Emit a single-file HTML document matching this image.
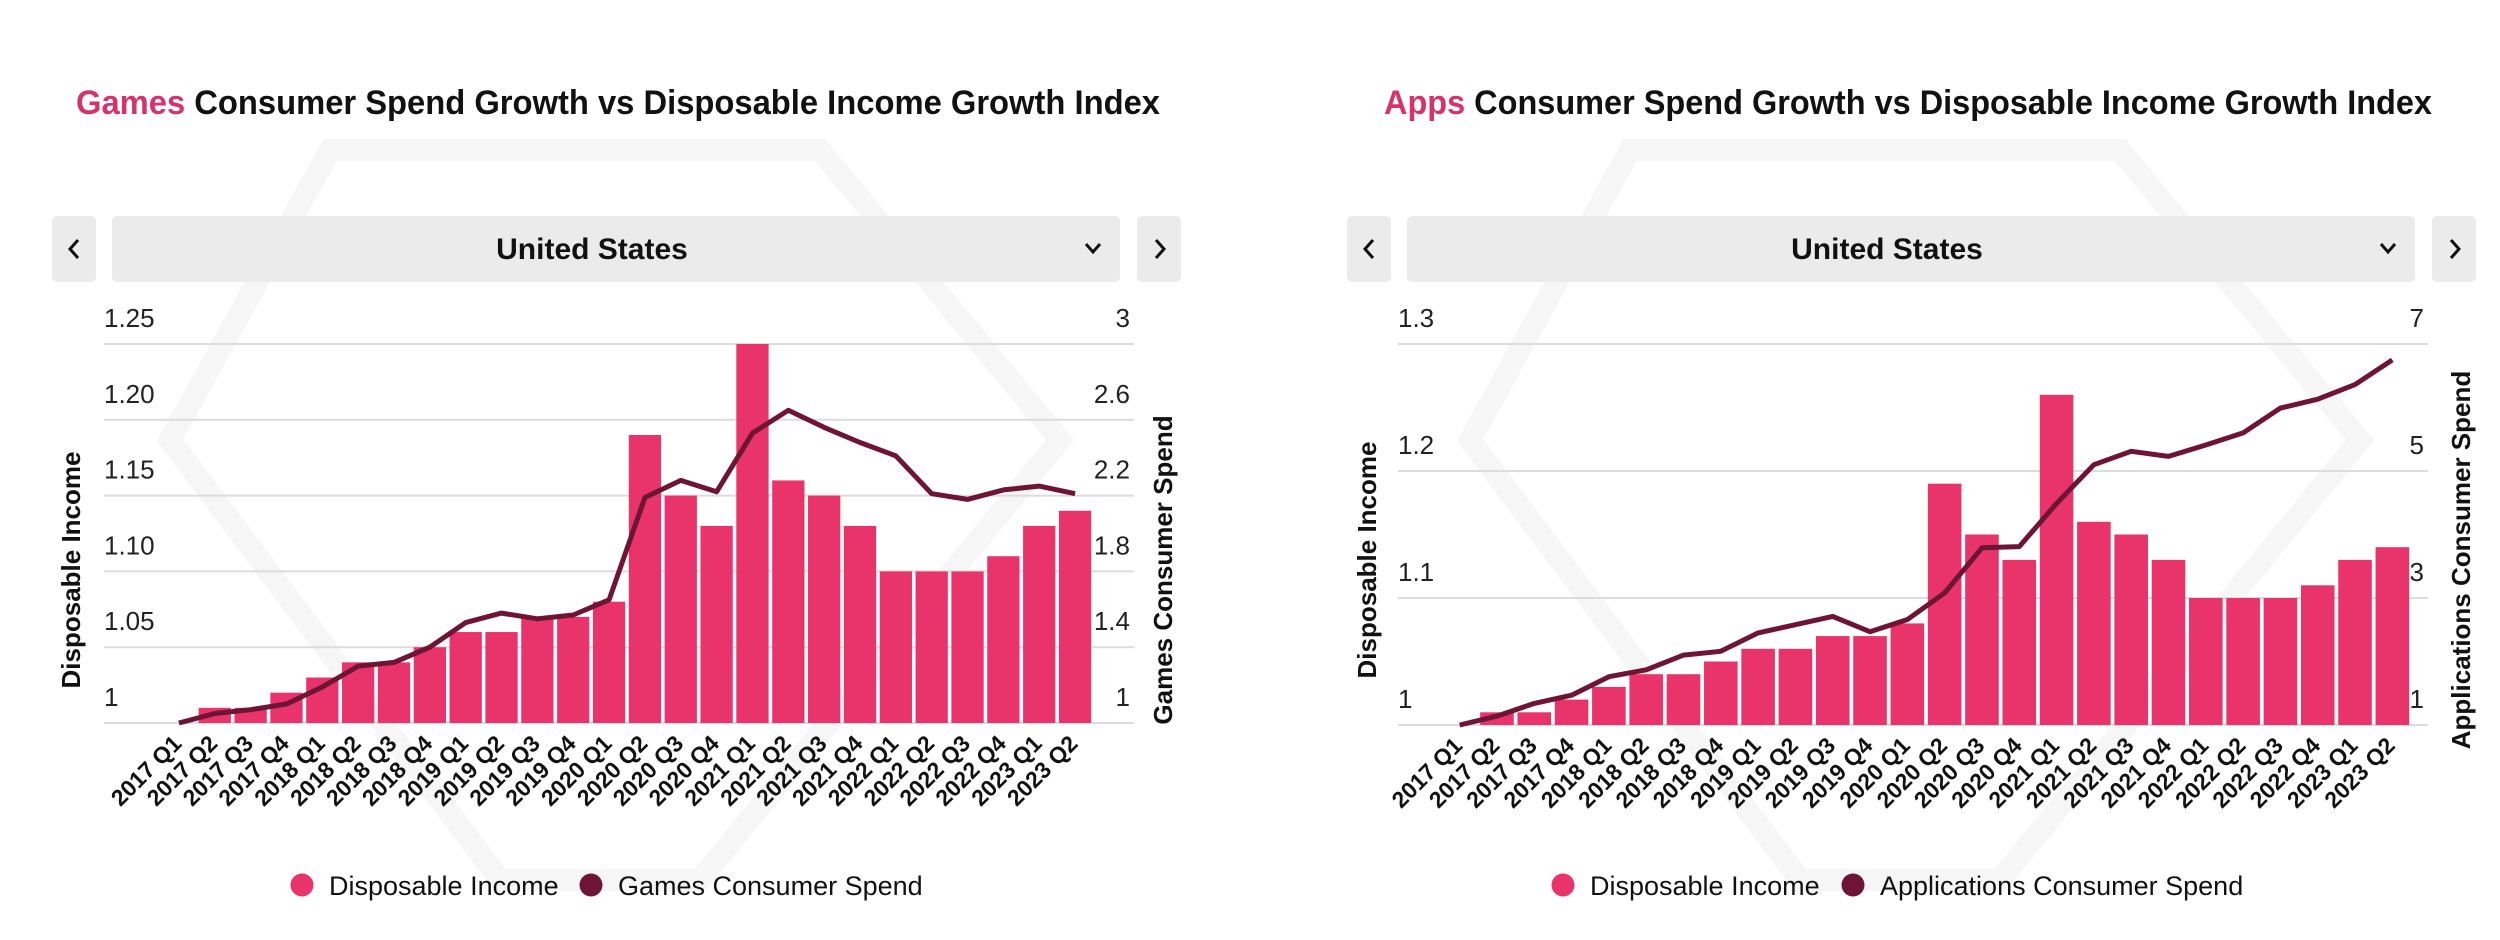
<!DOCTYPE html>
<html><head><meta charset="utf-8"><style>
html,body{margin:0;padding:0;background:#fff;width:2500px;height:940px;overflow:hidden;font-family:"Liberation Sans",sans-serif;}
svg{display:block}
</style></head><body>
<svg id="root" width="2500" height="940" viewBox="0 0 2500 940" xmlns="http://www.w3.org/2000/svg">
  <g fill="none" stroke="#f6f6f6" stroke-width="22">
    <polygon points="330,150 820,150 1060,440 700,880 500,880 170,440"/>
    <polygon points="1630,150 2120,150 2360,440 2000,880 1800,880 1470,440"/>
  </g>
  <g id="c0"></g>
  <g id="c1"></g>
</svg>
<script>
const categories = ["2017 Q1","2017 Q2","2017 Q3","2017 Q4","2018 Q1","2018 Q2","2018 Q3","2018 Q4","2019 Q1","2019 Q2","2019 Q3","2019 Q4","2020 Q1","2020 Q2","2020 Q3","2020 Q4","2021 Q1","2021 Q2","2021 Q3","2021 Q4","2022 Q1","2022 Q2","2022 Q3","2022 Q4","2023 Q1","2023 Q2"];
const gamesIncome = [1.00,1.01,1.01,1.02,1.03,1.04,1.04,1.05,1.06,1.06,1.07,1.07,1.08,1.19,1.15,1.13,1.25,1.16,1.15,1.13,1.10,1.10,1.10,1.11,1.13,1.14];
const gamesSpend = [1.00,1.05,1.07,1.10,1.19,1.30,1.32,1.40,1.53,1.58,1.55,1.57,1.65,2.19,2.28,2.22,2.53,2.65,2.56,2.48,2.41,2.21,2.18,2.23,2.25,2.21];
const gamesLeftTicks = ["1","1.05","1.10","1.15","1.20","1.25"];
const gamesRightTicks = ["1","1.4","1.8","2.2","2.6","3"];
const appsIncome = [1.00,1.01,1.01,1.02,1.03,1.04,1.04,1.05,1.06,1.06,1.07,1.07,1.08,1.19,1.15,1.13,1.26,1.16,1.15,1.13,1.10,1.10,1.10,1.11,1.13,1.14];
const appsSpend = [1.00,1.14,1.34,1.47,1.76,1.87,2.10,2.16,2.45,2.58,2.71,2.47,2.66,3.08,3.79,3.81,4.49,5.10,5.31,5.23,5.41,5.60,5.99,6.13,6.36,6.75];
const appsLeftTicks = ["1","1.1","1.2","1.3"];
const appsRightTicks = ["1","3","5","7"];

const NS="http://www.w3.org/2000/svg";
function mk(parent,tag,attrs,text){const e=document.createElementNS(NS,tag);for(const k in attrs)e.setAttribute(k,attrs[k]);if(text!==undefined)e.textContent=text;parent.appendChild(e);return e;}

function drawChart(g,o){
  const t=mk(g,'text',{x:o.titleX,y:114,'font-size':34,'font-weight':'bold',fill:'#111','textLength':o.titleW,'lengthAdjust':'spacingAndGlyphs'});
  
  
  mk(t,'tspan',{fill:'#d6336c'},o.titleHi);
  mk(t,'tspan',{},' Consumer Spend Growth vs Disposable Income Growth Index');
  const ox=o.ox;
  const pb=mk(g,'rect',{x:52+ox,y:216,width:44,height:66,rx:5,fill:'#ebebeb'});
  
  
  mk(g,'path',{d:`M${78+ox},240 l-8,9 l8,9`,fill:'none',stroke:'#111','stroke-width':3});
  const dd=mk(g,'rect',{x:112+ox,y:216,width:1008,height:66,rx:5,fill:'#ebebeb'});
  
  
  const dt=mk(g,'text',{x:592+ox,y:259,'font-size':30,'font-weight':'bold','text-anchor':'middle',fill:'#111'},'United States');
  
  
  mk(g,'path',{d:`M${1086+ox},244 l7,8 l7,-8`,fill:'none',stroke:'#111','stroke-width':3});
  const nb=mk(g,'rect',{x:1137+ox,y:216,width:44,height:66,rx:5,fill:'#ebebeb'});
  
  
  mk(g,'path',{d:`M${1156+ox},240 l8,9 l-8,9`,fill:'none',stroke:'#111','stroke-width':3});

  const yL=v=>o.y0-(v-o.lMin)/(o.lMax-o.lMin)*(o.y0-o.y1);
  const yR=v=>o.y0-(v-o.rMin)/(o.rMax-o.rMin)*(o.y0-o.y1);
  const pitch=(o.bandEnd-o.bandStart)/categories.length;
  const xC=i=>o.bandStart+pitch*(i+0.5);
  o.lTicks.forEach((lab,i)=>{
    const v=parseFloat(lab);const y=yL(v);
    const gl=mk(g,'line',{x1:o.gx0,x2:o.gx1,y1:y,y2:y,stroke:'#dcdcdc','stroke-width':2});
    
    
    const tl=mk(g,'text',{x:o.gx0,y:y-17,'font-size':26,fill:'#222'},lab);
    
    
    const rl=mk(g,'text',{x:o.gx1-4,y:y-17,'font-size':26,fill:'#222','text-anchor':'end'},o.rTicks[i]);
    
    
  });
  o.income.forEach((v,i)=>{
    const y=yL(v);
    const b=mk(g,'rect',{x:xC(i)-pitch*0.45,y:y,width:pitch*0.9,height:Math.max(0,o.y0-y),fill:'#e8336b'});
    
    
  });
  const pts=o.spend.map((v,i)=>xC(i).toFixed(1)+','+yR(v).toFixed(1)).join(' ');
  const pl=mk(g,'polyline',{points:pts,fill:'none',stroke:'#6e1434','stroke-width':5,'stroke-linejoin':'round'});
  
  
  categories.forEach((c,i)=>{
    const x=xC(i)+4,y=o.y0+22;
    const xl=mk(g,'text',{x:x,y:y,'font-size':23,'font-weight':'bold',fill:'#111','text-anchor':'end',transform:`rotate(-45 ${x} ${y})`},c);
    
    
  });
  const ya=mk(g,'text',{x:0,y:0,'font-size':26,'font-weight':'bold',fill:'#111','text-anchor':'middle',transform:`translate(${o.lTitleX} ${o.axisMid}) rotate(-90)`},'Disposable Income');
  
  
  const yb=mk(g,'text',{x:0,y:0,'font-size':26,'font-weight':'bold',fill:'#111','text-anchor':'middle',transform:`translate(${o.rTitleX} ${o.axisMid}) rotate(-90)`},o.rTitle);
  
  
  const l1=mk(g,'g',{});
  
  
  mk(l1,'circle',{cx:o.legX,cy:885,r:11.5,fill:'#e8336b'});
  mk(l1,'text',{x:o.legX+27,y:895,'font-size':27,fill:'#111'},'Disposable Income');
  const l2=mk(g,'g',{});
  
  
  mk(l2,'circle',{cx:o.legX2,cy:885,r:11.5,fill:'#6e1434'});
  mk(l2,'text',{x:o.legX2+27,y:895,'font-size':27,fill:'#111'},o.rTitle);
}

drawChart(document.getElementById('c0'),{ox:0,titleX:76,titleW:1084,titleHi:'Games',
  y0:723,y1:344,lMin:1,lMax:1.25,rMin:1,rMax:3,gx0:104,gx1:1134,bandStart:161,bandEnd:1093,
  income:gamesIncome,spend:gamesSpend,lTicks:gamesLeftTicks,rTicks:gamesRightTicks,
  lTitleX:80,rTitleX:1172,axisMid:570,rTitle:'Games Consumer Spend',legX:302,legX2:591});
drawChart(document.getElementById('c1'),{ox:1295,titleX:1384,titleW:1048,titleHi:'Apps',
  y0:725,y1:344,lMin:1,lMax:1.3,rMin:1,rMax:7,gx0:1398,gx1:2428,bandStart:1441,bandEnd:2411,
  income:appsIncome,spend:appsSpend,lTicks:appsLeftTicks,rTicks:appsRightTicks,
  lTitleX:1376,rTitleX:2470,axisMid:560,rTitle:'Applications Consumer Spend',legX:1563,legX2:1853});
</script>
</body></html>
